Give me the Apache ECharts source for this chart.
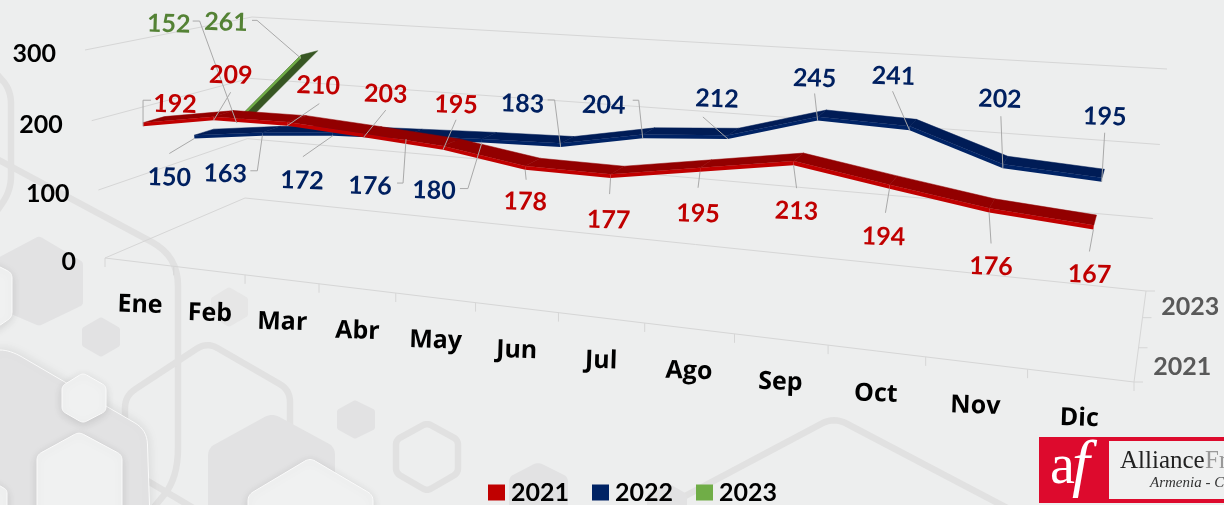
<!DOCTYPE html>
<html><head><meta charset="utf-8">
<style>html,body{margin:0;padding:0;background:#edeeee;overflow:hidden}#c{width:1224px;height:505px}</style>
<script src="https://cdn.jsdelivr.net/npm/echarts@6/dist/echarts.min.js"></script>
</head><body><div id="c"></div>
<script>
// ---- data ----
const months = ['Ene','Feb','Mar','Abr','May','Jun','Jul','Ago','Sep','Oct','Nov','Dic'];
const values2021 = [192,209,210,203,195,178,177,195,213,194,176,167];
const values2022 = [150,163,172,176,180,183,204,212,245,241,202,195];
const values2023 = [152,261];
const valueTicks = [0,100,200,300];
const depthTickLabels = ['2021','','2023'];

// ---- label layout: offset of the text and elbows of the leader, relative to the point ----
const layout2021 = [[32,-22,[[0,-26],[8,-26]]],[17,-45,[[17,-28]]],[31,-40,[[32,-22]]],[22,-43,[[22,-27]]],[13,-45,[[13,-30]]],[0,32,[[1,10]]],[-2,42,[[-1,16]]],[-2,42,[[-2,16]]],[3,46,[[3,23]]],[-6,48,[[-4,24]]],[2,54,[[2,31]]],[-4,45,[[-4,22]]]];
const layout2022 = [[-25,39,[[-25,15]]],[-37,38,[[-5,35],[-12,35]]],[-31,45,[[-30,21]]],[-36,47,[[-3,44],[-9,44]]],[-48,48,[[-14,46],[-22,46]]],[-38,-43,[[-6,-47],[-13,-47]]],[-39,-33,[[-4,-38],[-10,-38]]],[-11,-40,[[-25,-22]]],[-3,-42,[[-3,-27]]],[-16,-54,[[-17,-39]]],[-3,-69,[[-2,-52]]],[3,-65,[[3,-49]]]];
const layout2023 = [[-68,-99,[[-37,-102],[-44,-102]]],[-75,-36,[[-44,-38],[-49,-38]]]];

const W = 1224, H = 505, maxV = 300;
const font = 'Lato', monthFont = '"Open Sans"';

// ---- perspective of the 3D box (u along months, w in depth, h up) ----
const fit = [[0,0,0,105,258],[1,0,0,1134,382],[1,1,0,1146,291],[0,1,0,245,198],[0,0,1,85,50],[0,1,1,252,17],[1,1,1,1167,69]];
function solve(A,b){const n=b.length;for(let i=0;i<n;i++){let m=i;for(let r=i+1;r<n;r++)if(Math.abs(A[r][i])>Math.abs(A[m][i]))m=r;[A[i],A[m]]=[A[m],A[i]];[b[i],b[m]]=[b[m],b[i]];for(let r=i+1;r<n;r++){const f=A[r][i]/A[i][i];for(let c=i;c<n;c++)A[r][c]-=f*A[i][c];b[r]-=f*b[i];}}const x=new Array(n).fill(0);for(let i=n-1;i>=0;i--){let s=b[i];for(let c=i+1;c<n;c++)s-=A[i][c]*x[c];x[i]=s/A[i][i];}return x;}
const M = (function(){const rows=[],rhs=[];fit.forEach(([u,w,h,x,y])=>{rows.push([u,w,h,1,0,0,0,0,-x*u,-x*w,-x*h]);rhs.push(x);rows.push([0,0,0,0,u,w,h,1,-y*u,-y*w,-y*h]);rhs.push(y);});
 const n=11,A=[],b=[];for(let i=0;i<n;i++){A.push(new Array(n).fill(0));b.push(0);rows.forEach((r,k)=>{b[i]+=r[i]*rhs[k];for(let j=0;j<n;j++)A[i][j]+=r[i]*r[j];});}return solve(A,b);})();
function proj(u,w,h){const d=M[8]*u+M[9]*w+M[10]*h+1;return [(M[0]*u+M[1]*w+M[2]*h+M[3])/d,(M[4]*u+M[5]*w+M[6]*h+M[7])/d];}
// frame projection: exact at the box corners
const resid = fit.map(([u,w,h,x,y])=>{const p=proj(u,w,h);return [u,w,h,x-p[0],y-p[1]];});
function frameProj(u,w,h){const p=proj(u,w,h);resid.forEach(r=>{const k=(r[0]?u:1-u)*(r[1]?w:1-w)*(r[2]?h:1-h);p[0]+=k*r[3];p[1]+=k*r[4];});return p;}
// library scale -> box coordinates
function box(api,i,v,w,def){const p=api.coord([i,v]),u=p[0]/W,q=proj(u,w,1-p[1]/H);q[0]+=def.nudge[0]+(def.nudge[1]-def.nudge[0])*u;q[1]+=def.nudge[2];return q;}

const seriesDefs = [
 {name:'2023',values:values2023,layout:layout2023,depth:2,top:'#375623',front:'#70ad47',text:'#548235',nudge:[-12,-12,0]},
 {name:'2022',values:values2022,layout:layout2022,depth:1,top:'#001c56',front:'#002365',text:'#002060',nudge:[-6.5,-2,-1]},
 {name:'2021',values:values2021,layout:layout2021,depth:0,top:'#920000',front:'#c00000',text:'#c00000',nudge:[-3.5,-1.5,-1]}
];
const ribbonW = 0.13, thick = 5;
const frontW = d => (d+0.5)/3 - ribbonW/2;

function ribbon(def){
 return {type:'custom',name:def.name,coordinateSystem:'cartesian2d',z:5,itemStyle:{color:def.front},silent:true,
  data:def.values.map((v,i)=>[i,v]),
  renderItem(params,api){
   const i=api.value(0),v=api.value(1);
   const kids=[],w0=frontW(def.depth),w1=w0+ribbonW;
   if(i+1<def.values.length){
    const n=def.values[i+1];
    kids.push({type:'polygon',shape:{points:[box(api,i,v,w0,def),box(api,i+1,n,w0,def),box(api,i+1,n,w1,def),box(api,i,v,w1,def)]},style:{fill:def.top,stroke:def.top,lineWidth:.5}});
    kids.push({type:'polygon',shape:{points:[box(api,i,v,w0,def),box(api,i+1,n,w0,def),box(api,i+1,n-thick,w0,def),box(api,i,v-thick,w0,def)]},style:{fill:def.front}});
   }
   return {type:'group',children:kids};
  }};
}
function labels(def){
 return {type:'custom',name:def.name+' etiquetas',coordinateSystem:'cartesian2d',z:8,silent:true,
  data:def.values.map((v,i)=>[i,v]),
  renderItem(params,api){
   const i=api.value(0),v=api.value(1),a=box(api,i,v-thick,frontW(def.depth),def),l=def.layout[i];
   const pts=[a].concat(l[2].map(e=>[a[0]+e[0],a[1]+e[1]]));
   return {type:'group',children:[
    {type:'polyline',shape:{points:pts},style:{fill:'none',stroke:'#a9a9a9',lineWidth:1}},
    {type:'text',x:a[0]+l[0],y:a[1]+l[1],rotation:-0.03,style:{text:String(v),fill:def.text,font:'bold 25px '+font,align:'center',verticalAlign:'middle'}}
   ]};
  }};
}
// frame: walls, floor, ticks and axis labels
const frameSeries = {type:'custom',name:'marco',coordinateSystem:'cartesian2d',z:3,silent:true,
 data:[[0,0]],
 renderItem(params,api){
  const kids=[],ln=(a,b)=>kids.push({type:'line',shape:{x1:a[0],y1:a[1],x2:b[0],y2:b[1]},style:{stroke:'#d6d6d6',lineWidth:1}});
  const step=api.coord([1,0])[0]-api.coord([0,0])[0],left=api.coord([0,0])[0]-step/2;
  const uOf=i=>(left+i*step)/W;
  valueTicks.forEach(t=>{
   const h=1-api.coord([0,t])[1]/H,a=frameProj(0,0,h),b=frameProj(0,1,h),c=frameProj(1,1,h);
   ln(a,b);ln(b,c);
   kids.push({type:'text',x:a[0]-29,y:a[1]+4,style:{text:String(t),fill:'#000',font:'bold 25px '+font,align:'right',verticalAlign:'middle'}});
  });
  ln(frameProj(0,0,0),frameProj(1,0,0));ln(frameProj(1,0,0),frameProj(1,1,0));
  months.forEach((m,i)=>{
   const a=frameProj(uOf(i),0,0);ln(a,[a[0],a[1]+9]);
   const t=uOf(i+.5),c=frameProj(t,0,0);
   kids.push({type:'text',x:c[0]+1-2*t,y:c[1]+43,rotation:-0.03,style:{text:m,fill:'#000',font:'bold 25px '+monthFont,align:'center',verticalAlign:'middle'}});
  });
  const e=frameProj(1,0,0);ln(e,[e[0],e[1]+9]);
  [0,1,2,3].forEach(d=>{const a=frameProj(1,d/3,0);ln(a,[a[0]+9,a[1]]);
   if(depthTickLabels[d]){const c=frameProj(1,(d+.5)/3,0);kids.push({type:'text',x:c[0]+17,y:c[1]+3,style:{text:depthTickLabels[d],fill:'#595959',font:'bold 25px '+font,align:'left',verticalAlign:'middle'}});}
  });
  return {type:'group',children:kids};
 }};

// ---- decoration ----
function rounded(pts,r,closed){const out=[],n=pts.length;for(let i=0;i<n;i++){const p=pts[i];if(!closed&&(i===0||i===n-1)){out.push(p);continue;}
  const a=pts[(i-1+n)%n],b=pts[(i+1)%n],la=Math.hypot(a[0]-p[0],a[1]-p[1]),lb=Math.hypot(b[0]-p[0],b[1]-p[1]),ra=Math.min(r,la/2),rb=Math.min(r,lb/2);
  const s=[p[0]+(a[0]-p[0])*ra/la,p[1]+(a[1]-p[1])*ra/la],e=[p[0]+(b[0]-p[0])*rb/lb,p[1]+(b[1]-p[1])*rb/lb];
  for(let t=0;t<=8;t++){const k=t/8;out.push([(1-k)*(1-k)*s[0]+2*k*(1-k)*p[0]+k*k*e[0],(1-k)*(1-k)*s[1]+2*k*(1-k)*p[1]+k*k*e[1]]);}}
 return out;}
const gray='#e2e2e3',band='#e1e1e1',pale='#f0f1f1';
const fillHex=(pts,r,c)=>({type:'polygon',shape:{points:rounded(pts,r||3,true)},style:{fill:c||gray}});
const paleHex=(pts,r)=>({type:'polygon',shape:{points:rounded(pts,r||6,true)},style:{fill:pale,stroke:'#fbfbfb',lineWidth:1,shadowBlur:10,shadowColor:'rgba(0,0,0,.12)',shadowOffsetY:2}});
const outline=(pts,r,closed)=>({type:closed?'polygon':'polyline',shape:{points:rounded(pts,r,closed)},style:{fill:'none',stroke:band,lineWidth:6.5}});
const decor=[
 outline([[-5,72],[11,90],[11,190],[-5,214]],14),
 outline([[-5,158],[178,256],[178,478],[150,512]],30),
 outline([[146,480],[200,512]],0),
 fillHex([[39,236],[83,262],[83,305],[39,326],[-10,305],[-10,262]],3),
 paleHex([[-10,262],[12,273],[12,317],[-10,332]],5),
 fillHex([[101,317],[120,328],[120,346],[101,357],[82,346],[82,328]],2),
 fillHex([[229,287],[248,298],[248,316],[229,327],[211,316],[211,298]],2,'#e6e6e6'),
 fillHex([[355,400],[375,410],[375,429],[355,439],[337,429],[337,410]],2),
 outline([[125,510],[125,396],[207,342],[290,390],[290,440]],12),
 {type:'polygon',shape:{points:rounded([[-10,350],[10,350],[147,430],[150,520],[-10,520]],14,true)},style:{fill:gray,stroke:'#fafafa',lineWidth:1,shadowBlur:12,shadowColor:'rgba(0,0,0,.1)'}},
 paleHex([[83,373],[106,386],[106,411],[83,423],[62,411],[62,386]],4),
 paleHex([[79,432],[122,455],[122,520],[37,520],[37,455]],5),
 paleHex([[-10,480],[7,490],[7,520],[-10,520]],3),
 fillHex([[272,413],[335,447],[335,520],[208,520],[208,448]],8),
 paleHex([[310,458],[373,495],[373,520],[248,520],[248,495]],6),
 outline([[427,423],[458,440],[458,473],[427,491],[396,473],[396,440]],5,true),
 fillHex([[538,462],[568,477],[568,520],[509,520],[509,477]],5),
 outline([[640,520],[834,417],[1030,520]],14),
 fillHex([[666,482],[687,494],[687,520],[647,520],[647,494]],4),
 {type:'rect',shape:{x:1039,y:437,width:190,height:66},style:{fill:'#dd0a2d'}},
 {type:'rect',shape:{x:1109,y:441,width:120,height:58},style:{fill:'#eff0f0'}},
 {type:'text',x:1050,y:468,style:{text:'a',fill:'#fff',font:'56px "Liberation Serif"',verticalAlign:'middle'}},
 {type:'text',x:1072,y:467,style:{text:'f',fill:'#fff',font:'italic 64px "Liberation Serif"',verticalAlign:'middle'}},
 {type:'text',x:1120,y:449,style:{text:'Alliance',fill:'#222',font:'25px "Liberation Serif"'}},
 {type:'text',x:1205,y:449,style:{text:'Fr',fill:'#999',font:'25px "Liberation Serif"'}},
 {type:'text',x:1150,y:476,style:{text:'Armenia - C',fill:'#333',font:'italic 15px "Liberation Serif"'}}
];

const chart=echarts.init(document.getElementById('c'),null,{renderer:'canvas',width:W,height:H});
chart.setOption({
 animation:false,backgroundColor:'#edeeee',
 grid:{left:0,right:0,top:0,bottom:0},
 xAxis:{type:'category',data:months,show:false},
 yAxis:{type:'value',min:0,max:maxV,interval:100,show:false},
 graphic:{elements:decor.map(d=>Object.assign({silent:true},d))},
 legend:{data:['2021','2022','2023'],left:483,top:475,itemWidth:17,itemHeight:16,itemGap:23,icon:'rect',selectedMode:false,
  formatter:'{b|{name}}',
  textStyle:{color:'#000',rich:{b:{fontFamily:font,fontWeight:'bold',fontSize:25,color:'#000',padding:[0,0,0,1]}}}},
 series:[frameSeries].concat(seriesDefs.map(ribbon),seriesDefs.map(labels))
});
</script></body></html>
